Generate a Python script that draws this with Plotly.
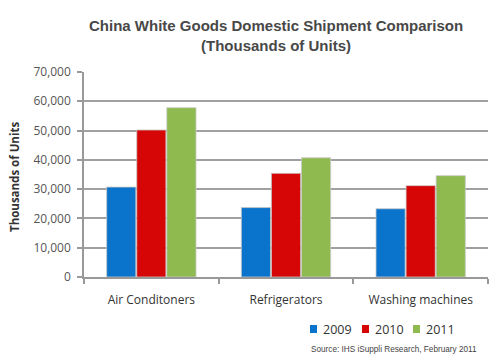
import plotly.graph_objects as go

categories = ["Air Conditoners", "Refrigerators", "Washing machines"]
years = ["2009", "2010", "2011"]
values_2009 = [30700, 23700, 23300]
values_2010 = [50200, 35400, 31200]
values_2011 = [57800, 40700, 34600]
colors = ["#0A74CC", "#D60606", "#8FBA50"]
y_ticks = [0, 10000, 20000, 30000, 40000, 50000, 60000, 70000]
y_tick_labels = ["0", "10,000", "20,000", "30,000", "40,000", "50,000", "60,000", "70,000"]

# the page body adds an 8px offset; size the figure to fill the rest of the window
OFF = 8
W, H = 500 - OFF, 359 - OFF
L, R, T, B = 84 - OFF, 12, 72 - OFF, 82
pw, ph = W - L - R, H - T - B

def px(x):  # screen pixel -> paper
    return (x - OFF - L) / pw

def py(y):
    return (H - B - (y - OFF)) / ph

fig = go.Figure()
for name, vals, col in zip(years, [values_2009, values_2010, values_2011], colors):
    fig.add_trace(go.Bar(name=name, x=categories, y=vals,
                         marker=dict(color=col, line=dict(color="#C8C8C8", width=0.8))))

annotations = [
    dict(text="<b>China White Goods Domestic Shipment Comparison</b>", x=px(276), y=py(25),
         xanchor="center", yanchor="middle", font=dict(size=15, color="#484848")),
    dict(text="<b>(Thousands of Units)</b>", x=px(276), y=py(45),
         xanchor="center", yanchor="middle", font=dict(size=15, color="#484848")),
    dict(text="<b>Thousands of Units</b>", x=px(14), y=py(177), xanchor="center", yanchor="middle",
         textangle=-90, font=dict(size=11.5, color="#333333", family="Open Sans, sans-serif")),
    dict(text="Source: IHS iSuppli Research, February 2011", x=px(479), y=py(349),
         xanchor="right", yanchor="middle", font=dict(size=8.2, color="#444444")),
]
shapes = []
legend_sq_x = [310, 362, 413]
for yr, col, sx in zip(years, colors, legend_sq_x):
    shapes.append(dict(type="rect", xref="paper", yref="paper",
                       x0=px(sx), x1=px(sx + 7), y0=py(333), y1=py(325),
                       fillcolor=col, line=dict(width=0)))
    annotations.append(dict(text=yr, x=px(sx + 11), y=py(329), xanchor="left", yanchor="middle",
                            font=dict(size=12.5, color="#333333", family="Open Sans, sans-serif")))
for a in annotations:
    a.update(xref="paper", yref="paper", showarrow=False)

fig.update_layout(
    width=W, height=H,
    margin=dict(l=L, r=R, t=T, b=B),
    paper_bgcolor="white", plot_bgcolor="white",
    barmode="group", bargap=0.33, bargroupgap=0.03,
    font=dict(family="Liberation Sans, Arial, sans-serif", color="#444444"),
    showlegend=False,
    annotations=annotations,
    shapes=shapes,
)

fig.update_xaxes(showline=True, linecolor="#999999", linewidth=1.5, ticks="outside",
                 tickson="boundaries", ticklen=5, tickcolor="#999999", tickwidth=1.5,
                 ticklabelstandoff=11,
                 tickfont=dict(size=12, color="#333333", family="Open Sans, sans-serif"),
                 showgrid=False)
fig.update_yaxes(range=[0, 70000], tickvals=y_ticks, ticktext=y_tick_labels,
                 showline=True, linecolor="#999999", linewidth=1.5, ticks="outside",
                 ticklen=5, tickcolor="#999999", tickwidth=1.5, ticklabelstandoff=4,
                 showgrid=True, gridcolor="#A0A0A0", gridwidth=1.5, zeroline=False,
                 tickfont=dict(size=12, color="#555555", family="Open Sans, sans-serif"))

fig.write_html("out.html")
